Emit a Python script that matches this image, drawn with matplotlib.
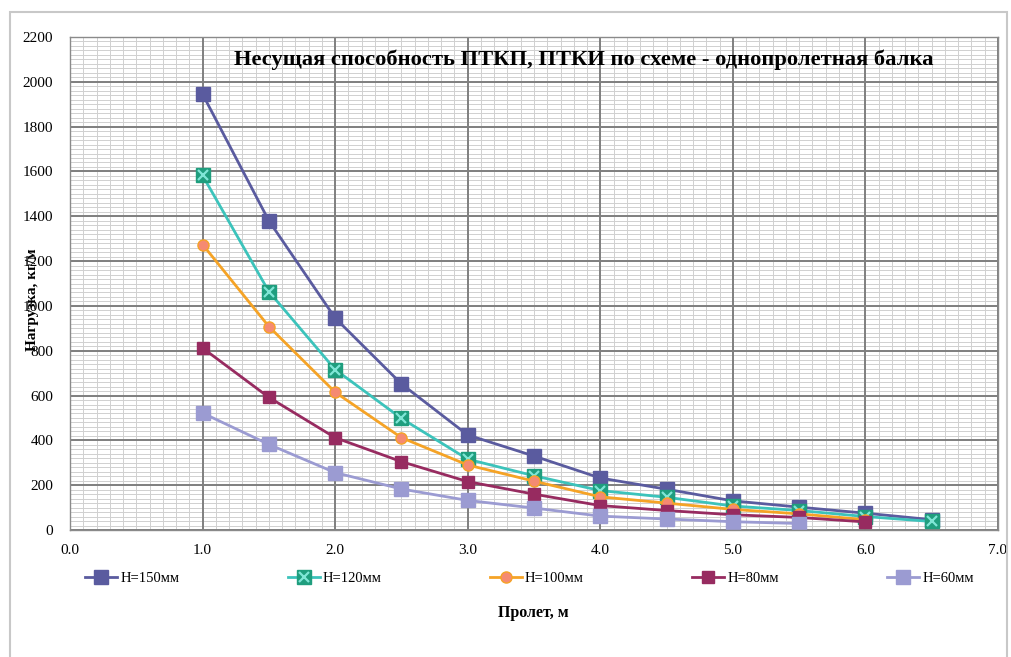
import matplotlib
matplotlib.use("Agg")
import matplotlib.pyplot as plt
from matplotlib.ticker import MultipleLocator, FormatStrFormatter
from matplotlib.patches import Rectangle

# Data
span = [1.0, 1.5, 2.0, 2.5, 3.0, 3.5, 4.0, 4.5, 5.0, 5.5, 6.0, 6.5]
h150 = [1945, 1380, 946, 652, 424, 330, 232, 182, 130, 102, 75, 46]
h120 = [1582, 1064, 716, 498, 316, 242, 176, 146, 107, 87, 60, 38]
h100 = [1274, 908, 615, 412, 290, 218, 148, 120, 92, 72, 46]
h80 = [812, 592, 412, 305, 216, 160, 109, 87, 68, 56, 36]
h60 = [522, 382, 256, 183, 132, 98, 62, 49, 37, 29]
labels = ["H=150мм", "H=120мм", "H=100мм", "H=80мм", "H=60мм"]

title = "Несущая способность ПТКП, ПТКИ по схеме - однопролетная балка"
xlabel = "Пролет, м"
ylabel = "Нагрузка, кг/м"

serif = ["Liberation Serif", "DejaVu Serif"]

fig = plt.figure(figsize=(10.12, 6.57), dpi=100)
rect = [70 / 1012, 1 - 530 / 657, 928 / 1012, 493 / 657]

# background axes: minor grid only
ax_bg = fig.add_axes(rect, zorder=0)
ax_bg.set_xlim(0, 7)
ax_bg.set_ylim(0, 2200)
ax_bg.xaxis.set_major_locator(MultipleLocator(0.1))
ax_bg.yaxis.set_major_locator(MultipleLocator(20))
ax_bg.grid(which="major", color="#d0d0d0", linewidth=0.7)
ax_bg.tick_params(which="both", length=0, labelbottom=False, labelleft=False)
for s in ax_bg.spines.values():
    s.set_visible(False)

# main axes: major grid + data
ax = fig.add_axes(rect, zorder=1)
ax.patch.set_alpha(0)
ax.set_xlim(0, 7)
ax.set_ylim(0, 2200)
ax.xaxis.set_major_locator(MultipleLocator(1.0))
ax.yaxis.set_major_locator(MultipleLocator(200))
ax.xaxis.set_major_formatter(FormatStrFormatter("%.1f"))
ax.grid(which="major", color="#7f7f7f", linewidth=1.4)
ax.set_axisbelow(True)
ax.tick_params(which="both", length=0)
ax.tick_params(axis="x", pad=10)
ax.tick_params(axis="y", pad=12)
for lab in ax.get_xticklabels() + ax.get_yticklabels():
    lab.set_fontfamily(serif)
    lab.set_fontsize(11)
for s in ax.spines.values():
    s.set_color("#8a8a8a")
    s.set_linewidth(1.0)

lw = 2.0
h1, = ax.plot(span[:len(h150)], h150, color="#5a5b9f", linewidth=lw, marker="s",
              markersize=10, markerfacecolor="#5a5b9f", markeredgecolor="#5a5b9f")
h2a, = ax.plot(span[:len(h120)], h120, color="#3cc3bb", linewidth=lw, marker="s",
               markersize=10, markerfacecolor="#1f9e7e", markeredgecolor="#1f9e7e")
h2b, = ax.plot(span[:len(h120)], h120, linestyle="none", marker="x",
               markersize=7, markeredgecolor="#7fe6d6", markeredgewidth=1.6)
h3, = ax.plot(span[:len(h100)], h100, color="#f5a326", linewidth=lw, marker="o",
              markersize=8, markerfacecolor="#f58a72", markeredgecolor="#f5a326")
h4, = ax.plot(span[:len(h80)], h80, color="#972b60", linewidth=lw, marker="s",
              markersize=8.5, markerfacecolor="#972b60", markeredgecolor="#972b60")
h5, = ax.plot(span[:len(h60)], h60, color="#9b9bd2", linewidth=lw, marker="s",
              markersize=10, markerfacecolor="#9b9bd2", markeredgecolor="#9b9bd2")
handles = [h1, (h2a, h2b), h3, h4, h5]

fig.text(584 / 1012, 1 - 60 / 657, title, ha="center", va="center",
         fontsize=16.2, fontweight="bold", family=serif, zorder=3)
fig.text(533 / 1012, 1 - 613 / 657, xlabel, ha="center", va="center",
         fontsize=11.5, fontweight="bold", family=serif)
fig.text(33 / 1012, 1 - 300 / 657, ylabel, ha="center", va="center",
         rotation=90, fontsize=11, fontweight="bold", family=serif, zorder=3)

leg = fig.legend(handles=handles, labels=labels, loc="center left",
                 bbox_to_anchor=(72 / 1012, 1 - 578 / 657, 915 / 1012, 0.0),
                 mode="expand", ncol=5, frameon=False, handlelength=2.2,
                 handletextpad=0.2, prop={"family": serif, "size": 10.5})

fig.patches.append(Rectangle((10 / 1012, -0.05), 997 / 1012, 1 - 12 / 657 + 0.05,
                             transform=fig.transFigure, fill=False,
                             edgecolor="#c8c8c8", linewidth=1.5))

fig.savefig("out.png", dpi=100, facecolor="white")
